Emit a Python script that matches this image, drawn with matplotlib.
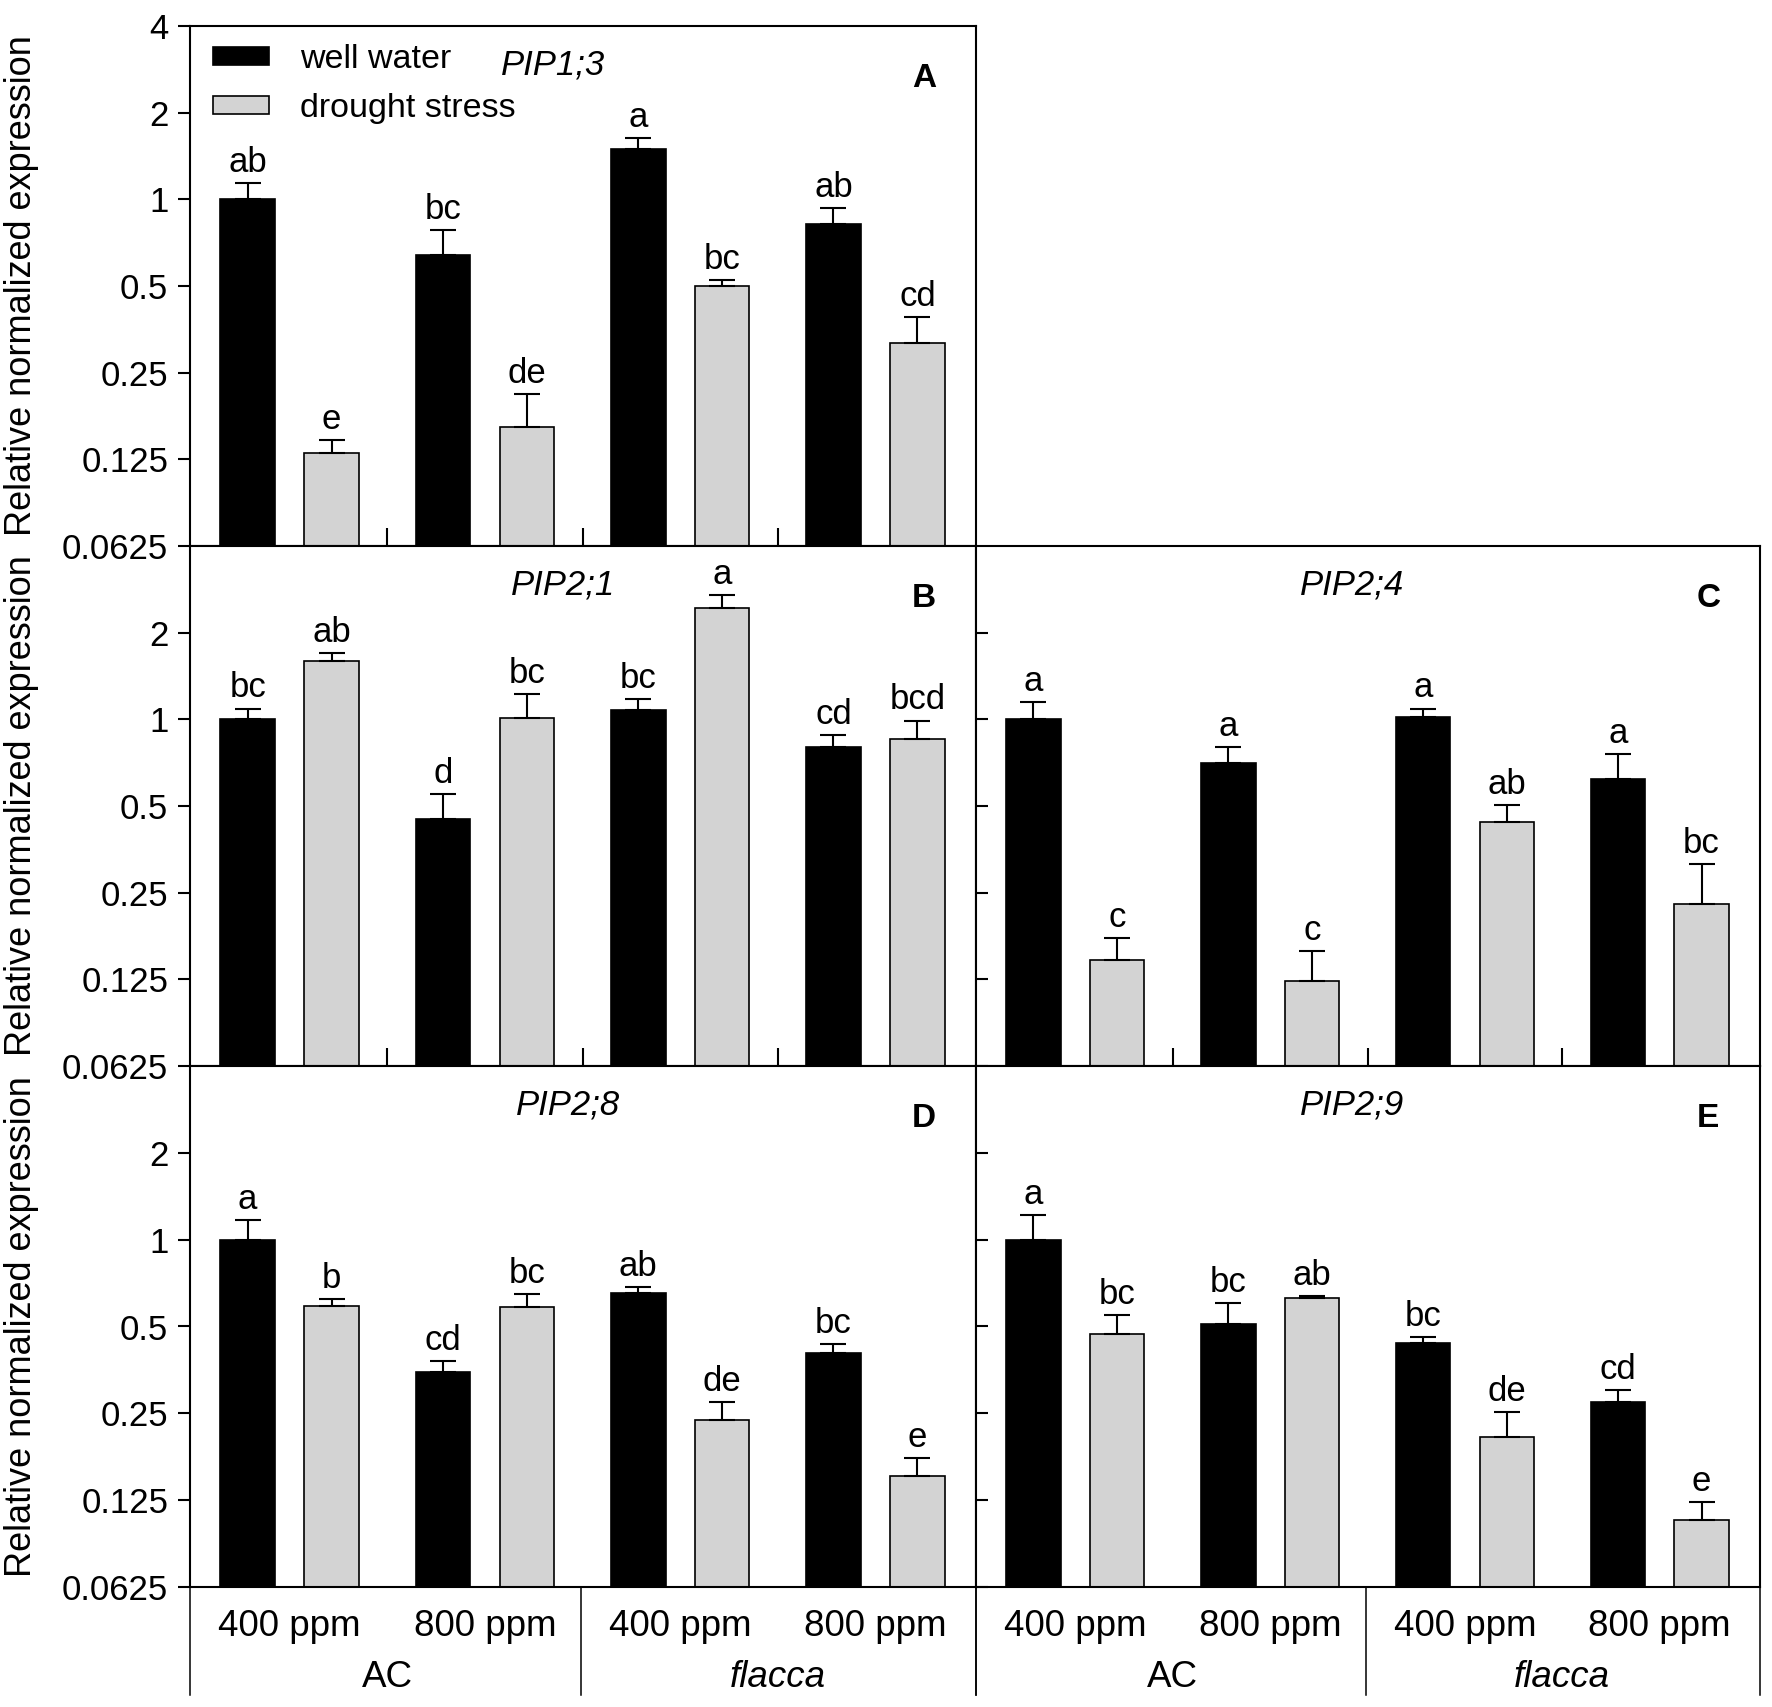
import numpy as np
import matplotlib
matplotlib.use("Agg")
import matplotlib.pyplot as plt
from matplotlib.patches import Patch

plt.rcParams['font.family'] = ['Liberation Sans', 'DejaVu Sans']

# groups along x: AC 400, AC 800, flacca 400, flacca 800
co2_labels = ['400 ppm', '800 ppm', '400 ppm', '800 ppm']
genotypes = ['AC', 'flacca']

# relative normalized expression (mean) and upper error
pip13_well = [1.00, 0.643, 1.50, 0.82]
pip13_well_err = [0.14, 0.14, 0.13, 0.11]
pip13_dry = [0.131, 0.162, 0.50, 0.317]
pip13_dry_err = [0.015, 0.048, 0.024, 0.073]
pip13_well_let = ['ab', 'bc', 'a', 'ab']
pip13_dry_let = ['e', 'de', 'bc', 'cd']

pip21_well = [1.00, 0.449, 1.076, 0.80]
pip21_well_err = [0.09, 0.10, 0.10, 0.084]
pip21_dry = [1.60, 1.007, 2.43, 0.854]
pip21_dry_err = [0.10, 0.22, 0.28, 0.136]
pip21_well_let = ['bc', 'd', 'bc', 'cd']
pip21_dry_let = ['ab', 'bc', 'a', 'bcd']

pip24_well = [1.00, 0.704, 1.018, 0.619]
pip24_well_err = [0.15, 0.096, 0.072, 0.139]
pip24_dry = [0.146, 0.123, 0.439, 0.229]
pip24_dry_err = [0.028, 0.034, 0.064, 0.086]
pip24_well_let = ['a', 'a', 'a', 'a']
pip24_dry_let = ['c', 'c', 'ab', 'bc']

pip28_well = [1.00, 0.348, 0.652, 0.404]
pip28_well_err = [0.17, 0.031, 0.031, 0.031]
pip28_dry = [0.59, 0.584, 0.237, 0.152]
pip28_dry_err = [0.034, 0.062, 0.036, 0.023]
pip28_well_let = ['a', 'cd', 'ab', 'bc']
pip28_dry_let = ['b', 'bc', 'de', 'e']

pip29_well = [1.00, 0.509, 0.439, 0.273]
pip29_well_err = [0.22, 0.094, 0.02, 0.029]
pip29_dry = [0.472, 0.626, 0.207, 0.107]
pip29_dry_err = [0.075, 0.013, 0.045, 0.016]
pip29_well_let = ['a', 'bc', 'bc', 'cd']
pip29_dry_let = ['bc', 'ab', 'de', 'e']

yticks = [0.0625, 0.125, 0.25, 0.5, 1, 2, 4]
ytick_labels = ['0.0625', '0.125', '0.25', '0.5', '1', '2', '4']
ymin, ymax = 0.0625, 4

W, H = 1772, 1707
fig = plt.figure(figsize=(W / 100, H / 100), dpi=100)

def pos(x0, y0, x1, y1):
    return [x0 / W, 1 - y1 / H, (x1 - x0) / W, (y1 - y0) / H]

axA = fig.add_axes(pos(190, 26, 976, 546))
axB = fig.add_axes(pos(190, 546, 976, 1066))
axC = fig.add_axes(pos(976, 546, 1760, 1066))
axD = fig.add_axes(pos(190, 1066, 976, 1587))
axE = fig.add_axes(pos(976, 1066, 1760, 1587))

panels = [
    (axA, 'PIP1;3', 'A', 0.462, pip13_well, pip13_well_err, pip13_dry, pip13_dry_err, pip13_well_let, pip13_dry_let),
    (axB, 'PIP2;1', 'B', 0.475, pip21_well, pip21_well_err, pip21_dry, pip21_dry_err, pip21_well_let, pip21_dry_let),
    (axC, 'PIP2;4', 'C', 0.480, pip24_well, pip24_well_err, pip24_dry, pip24_dry_err, pip24_well_let, pip24_dry_let),
    (axD, 'PIP2;8', 'D', 0.481, pip28_well, pip28_well_err, pip28_dry, pip28_dry_err, pip28_well_let, pip28_dry_let),
    (axE, 'PIP2;9', 'E', 0.480, pip29_well, pip29_well_err, pip29_dry, pip29_dry_err, pip29_well_let, pip29_dry_let),
]

x = np.arange(4)
width = 0.28
off = 0.215
gray = '#d3d3d3'

for ax, gene, letter, gx, well, well_err, dry, dry_err, well_let, dry_let in panels:
    ax.set_yscale('log', base=2)
    ax.set_ylim(ymin, ymax)
    ax.set_xlim(-0.51, 3.515)
    well = np.array(well)
    dry = np.array(dry)
    ax.bar(x - off, well - ymin, bottom=ymin, width=width, color='black',
           edgecolor='black', linewidth=1.2, zorder=2)
    ax.bar(x + off, dry - ymin, bottom=ymin, width=width, color=gray,
           edgecolor='black', linewidth=1.2, zorder=2)
    ax.errorbar(x - off, well, yerr=[np.zeros(4), well_err], fmt='none',
                ecolor='black', elinewidth=1.5, capsize=9.5, capthick=1.5, zorder=3)
    ax.errorbar(x + off, dry, yerr=[np.zeros(4), dry_err], fmt='none',
                ecolor='black', elinewidth=1.5, capsize=9.5, capthick=1.5, zorder=3)
    for xi, v, e, t in zip(x - off, well, well_err, well_let):
        ax.annotate(t, (xi, v + e), xytext=(0, 8), textcoords='offset points',
                    ha='center', va='baseline', fontsize=25)
    for xi, v, e, t in zip(x + off, dry, dry_err, dry_let):
        ax.annotate(t, (xi, v + e), xytext=(0, 8), textcoords='offset points',
                    ha='center', va='baseline', fontsize=25)

    ax.text(gx, 0.907, gene, transform=ax.transAxes, ha='center', va='baseline',
            fontsize=25, style='italic')
    ax.text(0.934, 0.883, letter, transform=ax.transAxes, ha='center', va='baseline',
            fontsize=24, fontweight='bold')

    for s in ax.spines.values():
        s.set_linewidth(1.5)
    ax.minorticks_off()
    ax.tick_params(axis='y', which='both', right=False)
    ax.tick_params(axis='x', which='both', top=False)

# y axes with labels on the left column
for ax in (axA, axB, axD):
    if ax is axA:
        ax.set_yticks(yticks, labels=ytick_labels)
    else:
        ax.set_yticks(yticks[:-1], labels=ytick_labels[:-1])
    ax.tick_params(axis='y', direction='out', length=8.6, width=1.5, pad=7, labelsize=25)
    p = ax.get_position()
    fig.text(22 / W, p.y0 + p.height / 2, 'Relative normalized expression', rotation=90,
             ha='center', va='center', fontsize=26)

# right column: inward ticks, no labels
for ax in (axC, axE):
    ax.set_yticks(yticks[:-1], labels=[''] * 6)
    ax.tick_params(axis='y', direction='in', length=8.6, width=1.5)

# separators between groups on the upper panels
for ax in (axA, axB, axC):
    ax.set_xticks([0.5, 1.5, 2.5], labels=['', '', ''])
    ax.tick_params(axis='x', direction='in', length=13, width=1.5)

# category labels under the bottom panels
for ax in (axD, axE):
    ax.set_xticks(x, labels=co2_labels)
    ax.tick_params(axis='x', length=0, pad=16, labelsize=26.5)
    trans = ax.get_xaxis_transform()
    for gi, g in enumerate(genotypes):
        ax.text(gi * 2 + 0.5, -0.192, g, transform=trans, ha='center', va='baseline',
                fontsize=26.5, style='italic' if g == 'flacca' else 'normal')
    for xs in (ax.get_xlim()[0], 1.49, ax.get_xlim()[1]):
        ax.plot([xs, xs], [0, -0.207], transform=trans, color='black', lw=1.1,
                clip_on=False)

handles = [Patch(facecolor='black', edgecolor='black', linewidth=1.2),
           Patch(facecolor=gray, edgecolor='black', linewidth=1.2)]
axA.legend(handles, ['well water', 'drought stress'], loc='upper left',
           bbox_to_anchor=(0.029, 0.965), frameon=False, fontsize=24.5,
           borderpad=0, borderaxespad=0, handlelength=1.65, handleheight=0.44,
           handletextpad=0.9, labelspacing=0.52)

fig.savefig('out.png', dpi=100)
